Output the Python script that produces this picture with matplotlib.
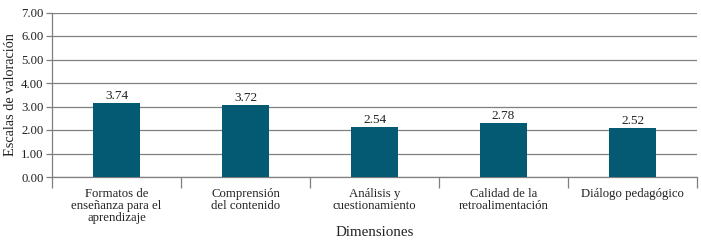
import matplotlib.pyplot as plt
import numpy as np

plt.rcParams['font.family'] = ['Liberation Serif', 'DejaVu Serif']

categories = ['Formatos de\nenseñanza para el\naprendizaje', 'Comprensión\ndel contenido',
              'Análisis y\ncuestionamiento', 'Calidad de la\nretroalimentación',
              'Diálogo pedagógico']
# heights as drawn in the picture, and the values printed above them
bar_heights = [3.14, 3.06, 2.13, 2.30, 2.09]
value_labels = ['3.74', '3.72', '2.54', '2.78', '2.52']
yticks = [0, 1, 2, 3, 4, 5, 6, 7]

grid_color = '#7f7f7f'
bar_color = '#035a72'
text_color = '#222222'

fig = plt.figure(figsize=(7.01, 2.42), dpi=100)
ax = fig.add_axes([52 / 701, 65 / 242, 645 / 701, 164.5 / 242])

x = np.arange(len(categories))
bars = ax.bar(x, bar_heights, width=0.37, color=bar_color, zorder=3)
for b, lab in zip(bars, value_labels):
    ax.text(b.get_x() + b.get_width() / 2, b.get_height() + 0.04, lab,
            ha='center', va='bottom', fontsize=9.5, color=text_color, zorder=4)

ax.set_xlim(-0.5, len(categories) - 0.5)
ax.set_ylim(0, 7)
ax.set_yticks(yticks)
ax.set_yticklabels([f'{v:.2f}' for v in yticks], fontsize=9.2, color=text_color)
ax.yaxis.grid(True, color=grid_color, linewidth=0.9, zorder=0)

ax.set_xticks(x)
ax.set_xticklabels(categories, fontsize=9.2, color=text_color, linespacing=1.0, va='top')
ax.set_xticks(np.arange(len(categories) + 1) - 0.5, minor=True)
ax.tick_params(axis='x', which='major', length=0, pad=8)
ax.tick_params(axis='x', which='minor', length=8, color=grid_color, width=0.9)
ax.tick_params(axis='y', length=4, color=grid_color, width=0.9, pad=2)

for s in ['top', 'right']:
    ax.spines[s].set_visible(False)
for s in ['left', 'bottom']:
    ax.spines[s].set_color(grid_color)
    ax.spines[s].set_linewidth(0.9)

ax.set_ylabel('Escalas de valoración', fontsize=10.3, color=text_color, labelpad=3)
ax.set_xlabel('Dimensiones', fontsize=10.8, color=text_color, va='center')
ax.xaxis.set_label_coords(0.5, -0.34)

fig.savefig('out.png', dpi=100)
